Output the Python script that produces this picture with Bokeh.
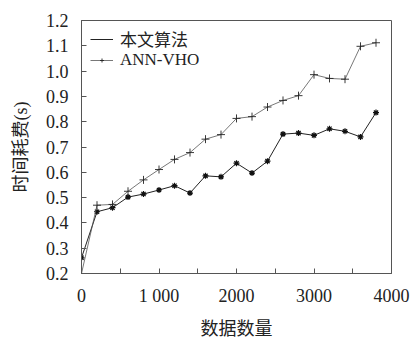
from bokeh.plotting import figure
from bokeh.models import FixedTicker, Legend, LegendItem
from bokeh.embed import file_html
from bokeh.resources import INLINE

x_vals = [0, 200, 400, 600, 800, 1000, 1200, 1400, 1600, 1800,
          2000, 2200, 2400, 2600, 2800, 3000, 3200, 3400, 3600, 3800]
ours = [0.262, 0.444, 0.460, 0.502, 0.514, 0.530, 0.547, 0.518, 0.586, 0.582,
        0.636, 0.597, 0.644, 0.751, 0.755, 0.746, 0.772, 0.762, 0.740, 0.836]
ann = [0.200, 0.470, 0.473, 0.525, 0.570, 0.611, 0.651, 0.678, 0.731, 0.749,
       0.813, 0.820, 0.858, 0.884, 0.903, 0.986, 0.971, 0.968, 1.098, 1.112]

x_ticks = [0, 500, 1000, 1500, 2000, 2500, 3000, 3500, 4000]
x_labels = {0: "0", 500: "", 1000: "1 000", 1500: "", 2000: "2000",
            2500: "", 3000: "3000", 3500: "", 4000: "4000"}
y_ticks = [0.2, 0.3, 0.4, 0.5, 0.6, 0.7, 0.8, 0.9, 1.0, 1.1, 1.2]

series_names = ["本文算法", "ANN-VHO"]
x_title = "数据数量"
y_title = "时间耗费(s)"

SERIF = "Liberation Serif, Noto Sans CJK SC"

p = figure(width=412, height=341, output_backend="svg", toolbar_location=None,
           x_range=(0, 4000), y_range=(0.2, 1.2),
           min_border_left=81, min_border_right=21, min_border_top=20, min_border_bottom=64)
p.grid.visible = False
p.outline_line_color = "#555555"
p.outline_line_width = 1
p.background_fill_color = "white"
p.border_fill_color = "white"

for ax in (p.xaxis[0], p.yaxis[0]):
    ax.major_tick_in = 5
    ax.major_tick_out = 0
    ax.minor_tick_in = 0
    ax.minor_tick_out = 0
    ax.axis_line_color = "#555555"
    ax.major_tick_line_color = "#555555"
    ax.major_label_text_font = SERIF
    ax.major_label_text_font_size = "18px"
    ax.major_label_text_color = "#222222"
    ax.axis_label_text_font = SERIF
    ax.axis_label_text_font_size = "18px"
    ax.axis_label_text_font_style = "normal"
    ax.axis_label_text_color = "#222222"

p.xaxis.ticker = FixedTicker(ticks=x_ticks)
p.xaxis.major_label_overrides = {k: v for k, v in x_labels.items()}
p.xaxis.major_label_standoff = 12
p.xaxis.axis_label = x_title
p.xaxis.axis_label_standoff = 10

p.yaxis.ticker = FixedTicker(ticks=y_ticks)
p.yaxis.major_label_overrides = {t: f"{t:.1f}" for t in y_ticks}
p.yaxis.major_label_standoff = 13
p.yaxis.axis_label = y_title
p.yaxis.axis_label_standoff = 12

l1 = p.line(x_vals, ours, line_color="#222222", line_width=1)
m1 = p.scatter(x_vals, ours, marker="asterisk", size=6, line_color="#111111", line_width=1.2)
d1 = p.scatter(x_vals, ours, marker="circle", size=2.5, line_color="#111111", fill_color="#111111")
l2 = p.line(x_vals, ann, line_color="#555555", line_width=0.8)
m2 = p.scatter(x_vals, ann, marker="cross", size=8, line_color="#222222", line_width=0.9)


def make_legend(label, renderers, vy):
    lg = Legend(items=[LegendItem(label=label, renderers=renderers)], location=(9, vy))
    lg.border_line_color = None
    lg.background_fill_alpha = 0
    lg.label_text_font = SERIF
    lg.label_text_font_size = "17px"
    lg.label_text_color = "#222222"
    lg.glyph_width = 23
    lg.glyph_height = 10
    lg.label_height = 16
    lg.spacing = 0
    lg.padding = 0
    lg.margin = 0
    lg.label_standoff = 7
    return lg


p.add_layout(make_legend(series_names[0], [l1], 222))
p.add_layout(make_legend(series_names[1], [l2, m2], 203))

open("out.html", "w").write(file_html(p, INLINE))
